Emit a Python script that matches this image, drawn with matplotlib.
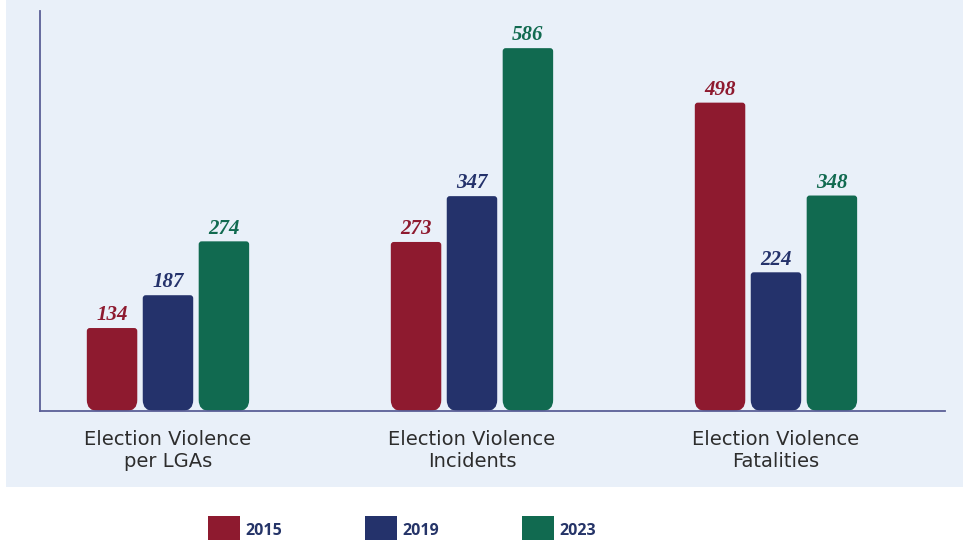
import matplotlib.pyplot as plt
from matplotlib.patches import Rectangle, PathPatch
from matplotlib.path import Path

categories = ["Election Violence\nper LGAs", "Election Violence\nIncidents", "Election Violence\nFatalities"]
years = ["2015", "2019", "2023"]
v2015 = [134, 273, 498]
v2019 = [187, 347, 224]
v2023 = [274, 586, 348]
colors = ["#8e1a2f", "#24326b", "#116a50"]

fig = plt.figure(figsize=(9.63, 5.4), dpi=100)
fig.patch.set_facecolor("white")
# light blue panel behind the plot
fig.add_artist(Rectangle((6 / 963, 53 / 540), 1, 1, transform=fig.transFigure,
                         facecolor="#e9f0f9", edgecolor="none", zorder=-1))

ax = fig.add_axes([40 / 963, 129 / 540, 905 / 963, 400 / 540])
ax.set_facecolor("none")
ax.set_xlim(-0.421, 2.556)
ax.set_ylim(0, 646)

# pixels per data unit, for round corners
px_x = 905 / (2.556 + 0.421)
px_y = 400 / 646


def rounded_bar(x0, w, h, color, rt=3, rb=11):
    rtx, rty = rt / px_x, rt / px_y
    rbx, rby = rb / px_x, rb / px_y
    verts = [
        (x0 + rbx, 0), (x0 + w - rbx, 0),
        (x0 + w, 0), (x0 + w, rby),
        (x0 + w, h - rty),
        (x0 + w, h), (x0 + w - rtx, h),
        (x0 + rtx, h),
        (x0, h), (x0, h - rty),
        (x0, rby),
        (x0, 0), (x0 + rbx, 0),
        (x0 + rbx, 0),
    ]
    codes = [Path.MOVETO, Path.LINETO,
             Path.CURVE3, Path.CURVE3,
             Path.LINETO,
             Path.CURVE3, Path.CURVE3,
             Path.LINETO,
             Path.CURVE3, Path.CURVE3,
             Path.LINETO,
             Path.CURVE3, Path.CURVE3,
             Path.CLOSEPOLY]
    ax.add_patch(PathPatch(Path(verts, codes), facecolor=color, edgecolor="none", zorder=2))


width = 0.166
step = 0.184
for i, vals in enumerate([v2015, v2019, v2023]):
    for g, v in enumerate(vals):
        xc = g + (i - 1) * step
        rounded_bar(xc - width / 2, width, v, colors[i])
        ax.annotate(str(v), (xc, v), xytext=(0, 2), textcoords="offset points",
                    ha="center", va="bottom", color=colors[i], fontsize=15,
                    fontstyle="italic", fontweight="bold", family="Liberation Serif")

for s in ["top", "right"]:
    ax.spines[s].set_visible(False)
for s in ["left", "bottom"]:
    ax.spines[s].set_color("#5b5f97")
    ax.spines[s].set_linewidth(1.3)
ax.set_yticks([])
ax.set_xticks(range(3))
ax.set_xticklabels(categories, fontsize=14, color="#2d2d2d", family="DejaVu Sans",
                   linespacing=1.15)
ax.tick_params(axis="x", length=0, pad=14)

# legend row under the panel
lx = [208, 365, 522]
for i, yr in enumerate(years):
    fig.add_artist(Rectangle((lx[i] / 963, 0), 32 / 963, 24 / 540, transform=fig.transFigure,
                             facecolor=colors[i], edgecolor="none"))
    fig.text((lx[i] + 37) / 963, 9 / 540, yr, fontsize=11.5, fontweight="bold",
             color="#253468", family="Open Sans", va="center", ha="left")

fig.savefig("out.png", dpi=100)
